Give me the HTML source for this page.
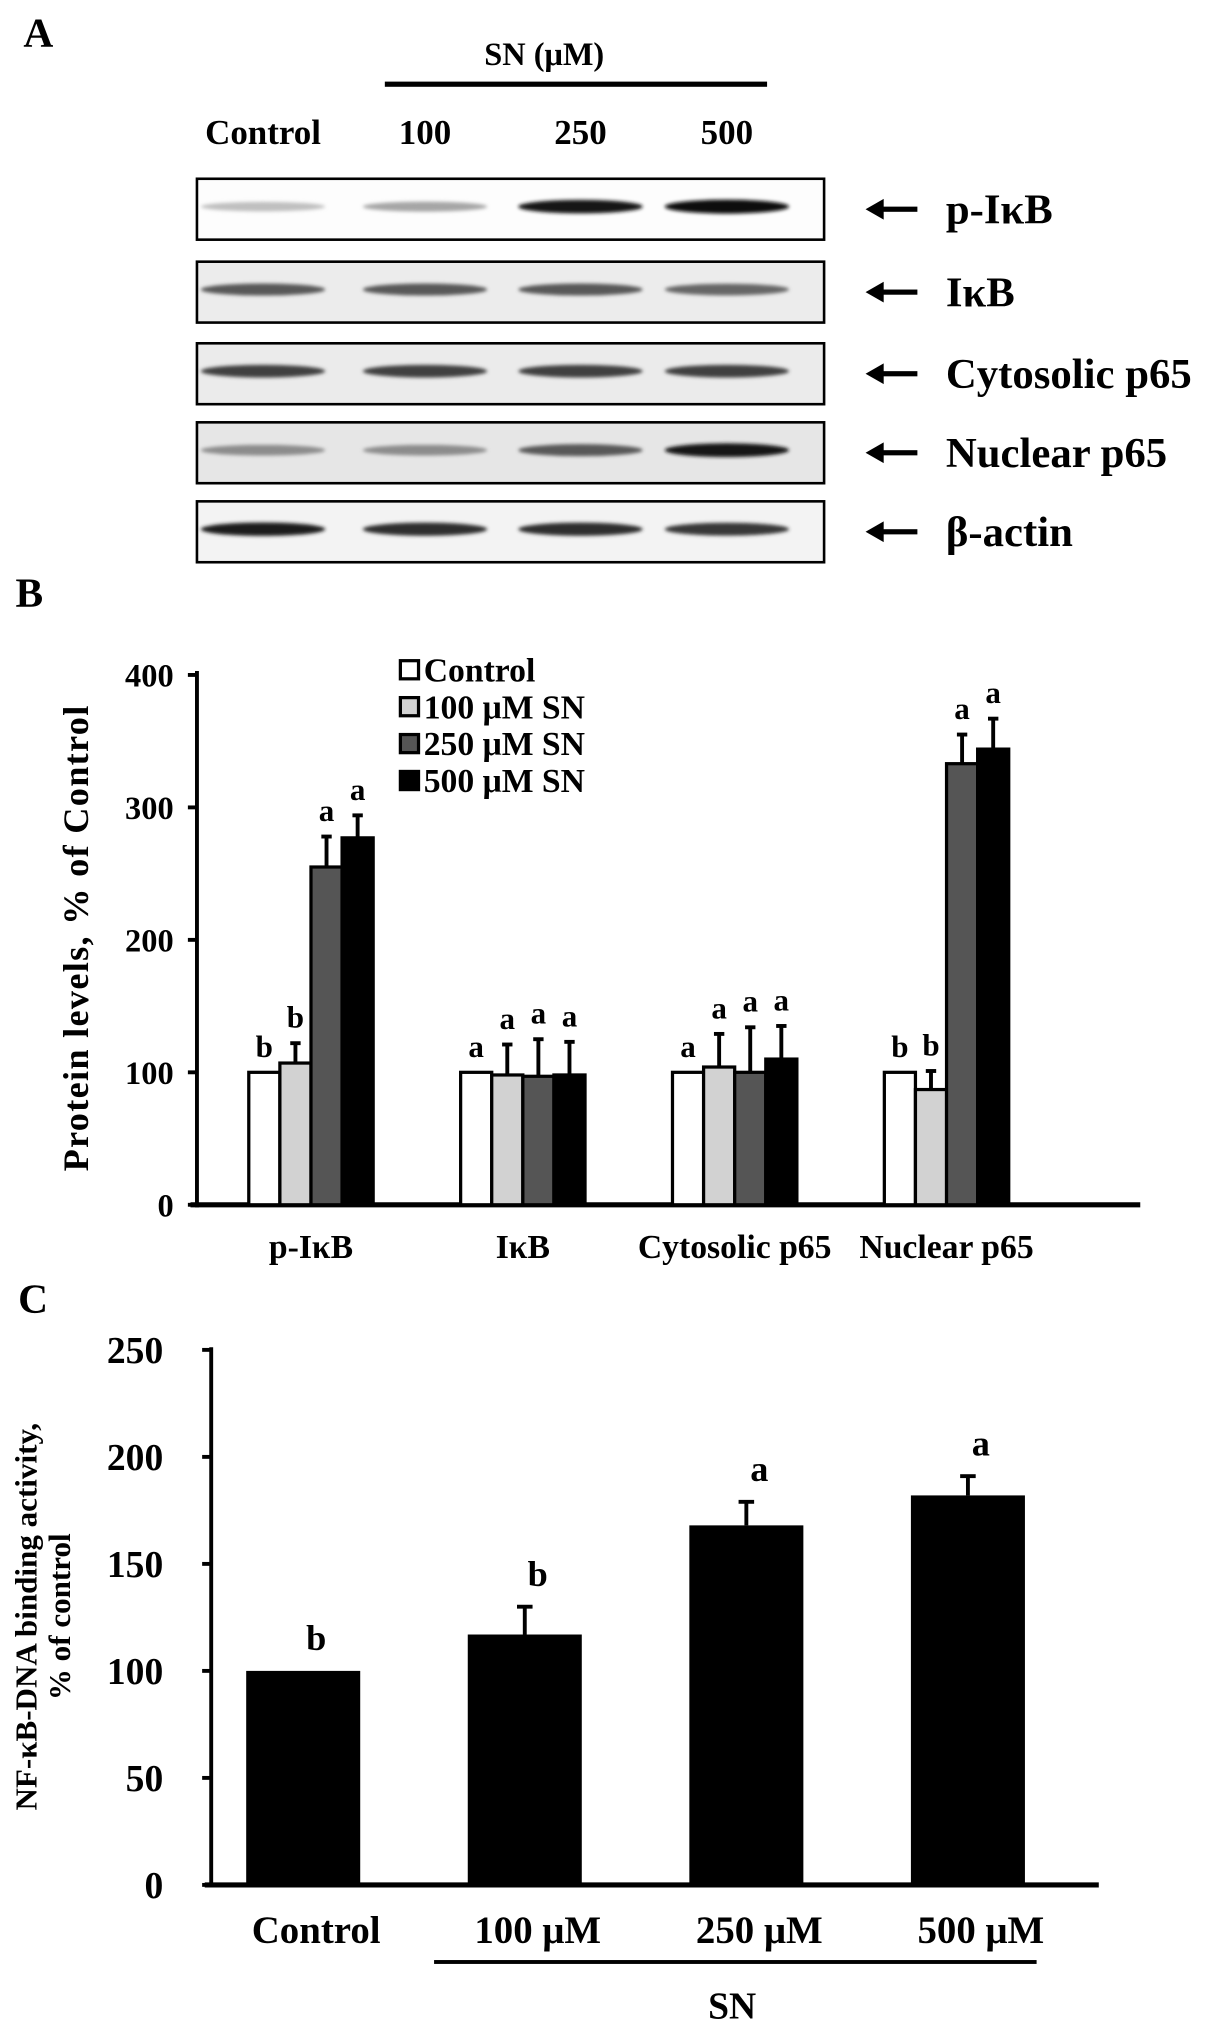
<!DOCTYPE html>
<html><head><meta charset="utf-8"><style>
html,body{margin:0;padding:0;background:#fff}
svg{display:block}
text{font-family:"Liberation Serif",serif;font-weight:bold;fill:#000}
</style></head><body>
<svg id="fig" width="1218" height="2030" viewBox="0 0 940 1567" preserveAspectRatio="none" xmlns="http://www.w3.org/2000/svg">
<defs><filter id="blur" x="-20%" y="-200%" width="140%" height="500%"><feGaussianBlur stdDeviation="1.4"/></filter></defs>
<text x="18" y="36" font-size="32">A</text>
<text x="420" y="50" font-size="25" text-anchor="middle">SN (μM)</text>
<rect x="297" y="63" width="295" height="4" fill="#000"/>
<g font-size="27" text-anchor="middle">
<text x="203" y="111">Control</text><text x="328" y="111">100</text><text x="448" y="111">250</text><text x="561" y="111">500</text>
</g>
<g id="blots"></g>
<text x="12" y="468" font-size="32">B</text>
<g id="chartB"></g>
<text x="14" y="1013" font-size="32">C</text>
<g id="chartC"></g>
</svg>
<script>
const NS="http://www.w3.org/2000/svg";
function mk(p,tag,attrs,txt){const e=document.createElementNS(NS,tag);for(const k in attrs)e.setAttribute(k,attrs[k]);if(txt!=null)e.textContent=txt;p.appendChild(e);return e;}

const blotNames=["p-IκB","IκB","Cytosolic p65","Nuclear p65","β-actin"];
const blotIntensity=[[0.25,0.35,0.9,0.95],[0.65,0.65,0.65,0.6],[0.75,0.75,0.75,0.75],[0.45,0.45,0.65,0.92],[0.88,0.82,0.82,0.78]];
const blotTops=[138,202,265,326,387];
const blotBg=["#fdfdfd","#ececec","#ebebeb","#e6e6e6","#f3f3f3"];
const lanesX=[203,328,448,561];
const blots=document.getElementById('blots');
blotNames.forEach((n,i)=>{
  const g=mk(blots,'g',{});
  
  
  const y=blotTops[i],h=47;
  mk(g,'rect',{x:152,y:y,width:484,height:h,fill:blotBg[i],stroke:'#000','stroke-width':2});
  blotIntensity[i].forEach((v,j)=>{
    const c=Math.round(255*(1-v));
    const b=mk(g,'ellipse',{cx:lanesX[j],cy:y+h/2-2,rx:48,ry:3+2.5*v,fill:`rgb(${c},${c},${c})`,filter:'url(#blur)'});
    
    
  });
  const ay=y+h/2;
  mk(g,'rect',{x:678,y:ay-2,width:30,height:4,fill:'#000'});
  mk(g,'polygon',{points:`668,${ay} 682,${ay-8} 682,${ay+8}`,fill:'#000'});
  mk(g,'text',{x:730,y:ay+11,'font-size':33},n);
});

const catsB=["p-IκB","IκB","Cytosolic p65","Nuclear p65"];
const seriesNames=["Control","100 μM SN","250 μM SN","500 μM SN"];
const ctrlVals=[100,100,100,100];
const sn100Vals=[107,98,104,87];
const sn250Vals=[255,97,100,333];
const sn500Vals=[277,98,110,344];
const sn100Err=[15,23,25,14];
const sn250Err=[23,28,34,22];
const sn500Err=[17,25,25,23];
const ctrlErr=[0,0,0,0];
const lettersB=[["b","b","a","a"],["a","a","a","a"],["a","a","a","a"],["b","b","a","a"]];
const ticksB=[0,100,200,300,400];
const fills=["#ffffff","#d2d2d2","#555555","#000000"];

const gB=document.getElementById('chartB');
const yB=v=>930-v*(930-521)/400;
const groupCenter=i=>240+i*163.5;
mk(gB,'line',{x1:152,y1:518,x2:152,y2:932,stroke:'#000','stroke-width':3});
mk(gB,'line',{x1:147,y1:930,x2:880,y2:930,stroke:'#000','stroke-width':4});
ticksB.forEach(t=>{
  const y=yB(t);
  const l=mk(gB,'line',{x1:145,y1:y,x2:152,y2:y,stroke:'#000','stroke-width':3});
  
  
  const tx=mk(gB,'text',{x:134,y:y+9,'font-size':25,'text-anchor':'end'},String(t));
  
  
});
const yt=mk(gB,'text',{x:0,y:0,'font-size':28,'text-anchor':'middle','letter-spacing':'1',transform:'translate(68,724) rotate(-90)'},'Protein levels, % of Control');


const valsB=[ctrlVals,sn100Vals,sn250Vals,sn500Vals];
const errsB=[ctrlErr,sn100Err,sn250Err,sn500Err];
catsB.forEach((c,i)=>{
  const cx=groupCenter(i);
  valsB.forEach((arr,s)=>{
    const x=cx-48+s*24, v=arr[i], e=errsB[s][i];
    if(e>0){
      mk(gB,'line',{x1:x+12,y1:yB(v),x2:x+12,y2:yB(v+e),stroke:'#000','stroke-width':3});
      mk(gB,'line',{x1:x+8,y1:yB(v+e),x2:x+16,y2:yB(v+e),stroke:'#000','stroke-width':3});
    }
    const r=mk(gB,'rect',{x:x,y:yB(v),width:24,height:930-yB(v),fill:fills[s],stroke:'#000','stroke-width':2.5});
    
    
    const lt=mk(gB,'text',{x:x+12,y:yB(v+e)-12,'font-size':24,'text-anchor':'middle'},lettersB[i][s]);
    
    
  });
  const cl=mk(gB,'text',{x:cx,y:971,'font-size':26,'text-anchor':'middle'},c);
  
  
});
seriesNames.forEach((n,s)=>{
  const y=517+s*28.5;
  const g=mk(gB,'g',{});
  
  
  mk(g,'rect',{x:309,y:y-7,width:14,height:14,fill:fills[s],stroke:'#000','stroke-width':2.5});
  mk(g,'text',{x:327,y:y+9,'font-size':26},n);
});

const catsC=["Control","100 μM","250 μM","500 μM"];
const valsC=[100,117,168,182];
const errsC=[0,13,11,9];
const lettersC=["b","b","a","a"];
const ticksC=[0,50,100,150,200,250];
const gC=document.getElementById('chartC');
const yC=v=>1455-v*(1455-1042)/250;
const xC=i=>234+i*171;
mk(gC,'line',{x1:163,y1:1040,x2:163,y2:1457,stroke:'#000','stroke-width':3});
mk(gC,'line',{x1:158,y1:1455,x2:848,y2:1455,stroke:'#000','stroke-width':4});
ticksC.forEach(t=>{
  const y=yC(t);
  const l=mk(gC,'line',{x1:156,y1:y,x2:163,y2:y,stroke:'#000','stroke-width':3});
  
  
  const tx=mk(gC,'text',{x:126,y:y+10,'font-size':29,'text-anchor':'end'},String(t));
  
  
});
const t1=mk(gC,'text',{x:0,y:0,'font-size':24,'text-anchor':'middle',transform:'translate(28,1248) rotate(-90)'},'NF-κB-DNA binding activity,');


const t2=mk(gC,'text',{x:0,y:0,'font-size':24,'text-anchor':'middle',transform:'translate(54,1248) rotate(-90)'},'% of control');


catsC.forEach((c,i)=>{
  const cx=xC(i),v=valsC[i],e=errsC[i];
  if(e>0){
    mk(gC,'line',{x1:cx,y1:yC(v),x2:cx,y2:yC(v+e),stroke:'#000','stroke-width':3});
    mk(gC,'line',{x1:cx-6,y1:yC(v+e),x2:cx+6,y2:yC(v+e),stroke:'#000','stroke-width':3});
  }
  const r=mk(gC,'rect',{x:cx-44,y:yC(v),width:88,height:1455-yC(v),fill:'#000'});
  
  
  const lt=mk(gC,'text',{x:cx+10,y:yC(v+e)-16,'font-size':28,'text-anchor':'middle'},lettersC[i]);
  
  
  const cl=mk(gC,'text',{x:cx+10,y:1500,'font-size':30,'text-anchor':'middle'},c);
  
  
});
mk(gC,'rect',{x:335,y:1513,width:465,height:3,fill:'#000'});
const sn=mk(gC,'text',{x:565,y:1558,'font-size':29,'text-anchor':'middle'},'SN');


</script>
</body></html>
